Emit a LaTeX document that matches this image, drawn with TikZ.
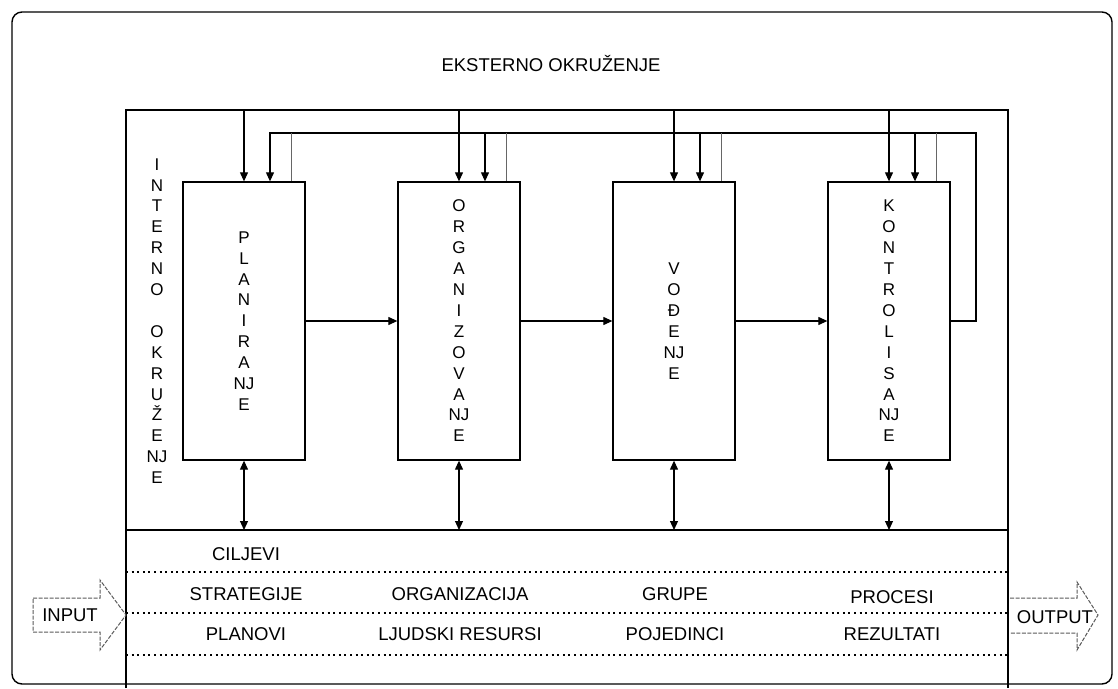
\documentclass[tikz,border=0pt]{standalone}
\usepackage{fontspec}
\setmainfont{Liberation Sans}
\usetikzlibrary{arrows.meta}
\begin{document}
\begin{tikzpicture}[x=1pt,y=-1pt,
  txt/.style={font=\fontsize{18.5}{21}\selectfont, inner sep=0pt},
  vtxt/.style={font=\fontsize{17}{20.9}\selectfont, align=center, inner sep=0pt},
  procbox/.style={draw, line width=1.3pt, minimum width=122pt, minimum height=278pt, inner sep=0pt},
  arr/.style={line width=1.1pt, -{Triangle[length=9pt,width=8pt]}},
  darr/.style={line width=1.1pt, {Triangle[length=9pt,width=8pt]}-{Triangle[length=9pt,width=8pt]}},
  thinl/.style={line width=0.8pt, draw=black!60},
  dotl/.style={line width=1.2pt, dash pattern=on 2pt off 3.6pt},
  blockarr/.style={draw=black!65, line width=1pt, dash pattern=on 4pt off 1.5pt},
]
\useasboundingbox (0,0) rectangle (1118,688);
% outer frame
\draw[line width=1.4pt, rounded corners=10pt] (12,12) rectangle (1112,684);
\node[txt] (ext) at (551,64) {EKSTERNO OKRUŽENJE};
% inner environment
\coordinate (itop) at (126,110);
\coordinate (mid) at (126,530);
\coordinate (fb) at (976,133);
\draw[line width=1.8pt] (126,688) -- (itop) -- (1008,110) -- (1008,688);
\draw[line width=1.8pt] (mid) -- (1008,530);
\node[vtxt] (int) at (157,321) {I\\N\\T\\E\\R\\N\\O\\\mbox{}\\O\\K\\R\\U\\Ž\\E\\NJ\\E};
% process boxes
\node[procbox] (P) at (244,321) {};
\node[procbox] (O) at (459,321) {};
\node[procbox] (V) at (674,321) {};
\node[procbox] (K) at (889,321) {};
\node[vtxt] (Pt) at (P.center) {P\\L\\A\\N\\I\\R\\A\\NJ\\E};
\node[vtxt] (Ot) at (O.center) {O\\R\\G\\A\\N\\I\\Z\\O\\V\\A\\NJ\\E};
\node[vtxt] (Vt) at (V.center) {V\\O\\Đ\\E\\NJ\\E};
\node[vtxt] (Kt) at (K.center) {K\\O\\N\\T\\R\\O\\L\\I\\S\\A\\NJ\\E};
% flow arrows
\draw[arr] (P.east) -- (O.west);
\draw[arr] (O.east) -- (V.west);
\draw[arr] (V.east) -- (K.west);
% feedback loop
\draw[arr] (K.east) -| (fb) -| ([xshift=26pt]P.north);
\foreach \b in {O,V,K}{
  \draw[arr] ([xshift=26pt]\b.north |- fb) -- ([xshift=26pt]\b.north);
}
\foreach \b in {P,O,V,K}{
  \draw[arr] (\b.north |- itop) -- (\b.north);
  \draw[thinl] ([xshift=47pt]\b.north |- fb) -- ([xshift=47pt]\b.north);
  \draw[darr] (\b.south) -- (\b.south |- mid);
}
% lower area
\draw[dotl] (126,572) -- (1008,572);
\draw[dotl] (126,613) -- (1008,613);
\draw[dotl] (126,655) -- (1008,655);
\node[txt] (c1) at (246,554) {CILJEVI};
\node[txt] (s1) at (246,594) {STRATEGIJE};
\node[txt] (p1) at (246,634) {PLANOVI};
\node[txt] (o1) at (460,594) {ORGANIZACIJA};
\node[txt] (l1) at (460,634) {LJUDSKI RESURSI};
\node[txt] (g1) at (675,594) {GRUPE};
\node[txt] (j1) at (675,634) {POJEDINCI};
\node[txt] (r1) at (892,597) {PROCESI};
\node[txt] (z1) at (892,634) {REZULTATI};
% input / output block arrows
\draw[blockarr] (33,598) -- (100,598) -- (100,580) -- (126,615) -- (100,650) -- (100,632) -- (33,632) -- cycle;
\node[txt] (in) at (70,615) {INPUT};
\draw[blockarr] (1010,598) -- (1077,598) -- (1077,582) -- (1098,615) -- (1077,650) -- (1077,633) -- (1010,633);
\node[txt] (out) at (1055,617) {OUTPUT};
\end{tikzpicture}
\end{document}
